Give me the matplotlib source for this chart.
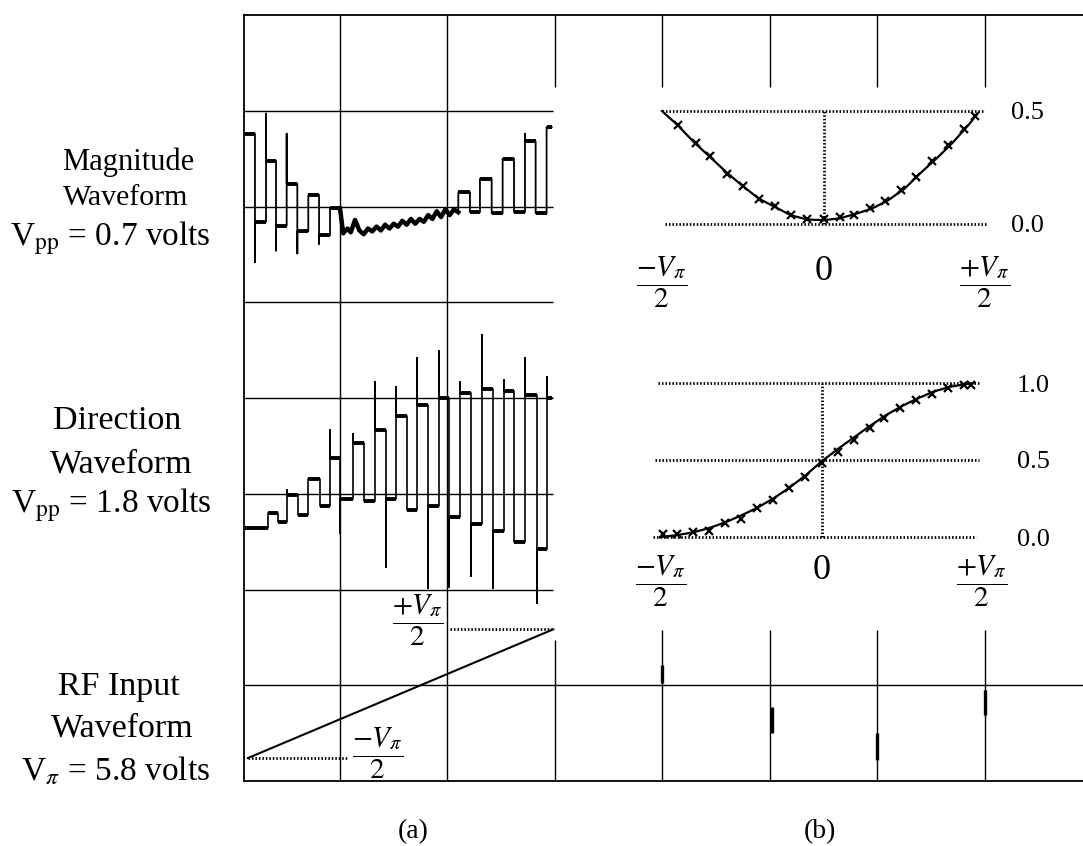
import matplotlib.pyplot as plt

plt.rcParams['font.family'] = ['Liberation Serif', 'DejaVu Serif']
plt.rcParams['mathtext.fontset'] = 'stix'

W, H = 1083, 846

# ---- (a) scope traces, time and level in screen divisions ----
# magnitude channel (centre line at 6 div)
mag_edges = [0.116, 0.209, 0.312, 0.405, 0.504, 0.603, 0.705, 0.805, 0.907, 1.0]
mag_levels = [0.76, -0.16, 0.48, -0.20, 0.24, -0.26, 0.12, -0.30, -0.02]
mag_spikes = [None, -0.58, 0.97, -0.46, 0.76, -0.49, None, -0.39, None]
mag_mid_t = [1.00, 1.03, 1.07, 1.10, 1.14, 1.18, 1.22, 1.26, 1.30, 1.34, 1.38, 1.42,
             1.46, 1.50, 1.54, 1.58, 1.62, 1.66, 1.70, 1.74, 1.78, 1.82, 1.86, 1.90,
             1.94, 1.98, 2.02, 2.06, 2.10]
mag_mid_v = [-0.02, -0.28, -0.23, -0.27, -0.14, -0.25, -0.29, -0.23, -0.26, -0.21, -0.25, -0.19,
             -0.23, -0.18, -0.21, -0.15, -0.19, -0.13, -0.18, -0.13, -0.16, -0.09, -0.13, -0.05,
             -0.11, -0.03, -0.09, -0.03, -0.06]
mag2_edges = [2.101, 2.209, 2.302, 2.411, 2.513, 2.619, 2.721, 2.820, 2.922, 2.969]
mag2_levels = [0.15, -0.06, 0.29, -0.07, 0.50, -0.06, 0.68, -0.07, 0.83]
mag2_spikes = [None, None, None, None, None, None, 0.76, None, None]

# direction channel (centre line at 3 div)
dir_edges = [0.116, 0.333, 0.426, 0.504, 0.612, 0.705, 0.814, 0.907, 1.0, 1.118, 1.223,
             1.326, 1.425, 1.521, 1.620, 1.719, 1.822, 1.921, 2.017, 2.116, 2.216, 2.318,
             2.420, 2.526, 2.622, 2.724, 2.829, 2.929, 2.969]
dir_levels = [-0.36, -0.20, -0.29, -0.01, -0.22, 0.15, -0.13, 0.37, -0.06, 0.53, -0.08,
              0.67, -0.06, 0.81, -0.17, 0.93, -0.13, 1.00, -0.24, 1.05, -0.32, 1.09,
              -0.39, 1.07, -0.50, 1.03, -0.58, 1.00]
dir_spikes = [None, None, None, 0.04, None, None, None, 0.67, -0.41, 0.62, None,
              1.17, -0.76, 1.12, None, 1.42, -0.98, 1.49, -0.97, 1.17, -0.86, 1.66,
              -0.98, 1.19, None, 1.42, -1.14, 1.22]

# RF input ramp (div from bottom)
rf_t = [0.144, 2.984]
rf_v = [0.24, 1.584]

# cursor blips on the lower right graticule
blip_x = [4.0, 5.02, 6.0, 7.0]
blip_lo = [1.02, 0.50, 0.22, 0.69]
blip_hi = [1.21, 0.77, 0.50, 0.95]

# ---- (b) transfer curves, x in units of V_pi/2 ----
mag_fit_x = [-1.0, -0.9, -0.8, -0.7, -0.6, -0.5, -0.4, -0.3, -0.2, -0.1, 0.0,
             0.1, 0.2, 0.3, 0.4, 0.5, 0.6, 0.7, 0.8, 0.9, 0.95]
mag_fit_y = [0.50, 0.435, 0.36, 0.295, 0.228, 0.168, 0.112, 0.075, 0.038, 0.02, 0.017,
             0.025, 0.045, 0.068, 0.105, 0.155, 0.225, 0.29, 0.36, 0.44, 0.485]
mag_meas_x = [-0.90, -0.79, -0.70, -0.60, -0.50, -0.40, -0.30, -0.20, -0.10, 0.0,
              0.10, 0.19, 0.29, 0.38, 0.48, 0.57, 0.67, 0.77, 0.87, 0.94]
mag_meas_y = [0.44, 0.36, 0.30, 0.22, 0.17, 0.11, 0.08, 0.04, 0.02, 0.02,
              0.03, 0.04, 0.07, 0.10, 0.15, 0.21, 0.28, 0.35, 0.42, 0.48]

dir_fit_x = mag_fit_x
dir_fit_y = [0.0, 0.012, 0.03, 0.058, 0.095, 0.14, 0.19, 0.25, 0.32, 0.40, 0.49,
             0.57, 0.645, 0.72, 0.79, 0.85, 0.90, 0.945, 0.975, 0.993, 1.0]
dir_meas_x = [-0.99, -0.90, -0.80, -0.70, -0.60, -0.50, -0.40, -0.30, -0.20, -0.10, 0.0,
              0.10, 0.20, 0.30, 0.39, 0.49, 0.59, 0.69, 0.79, 0.89, 0.93]
dir_meas_y = [0.02, 0.02, 0.03, 0.04, 0.09, 0.12, 0.19, 0.24, 0.32, 0.39, 0.48,
              0.55, 0.63, 0.71, 0.77, 0.84, 0.89, 0.93, 0.97, 0.99, 0.99]

frac_lo = r'$\dfrac{-V_{\pi}}{2}$'
frac_hi = r'$\dfrac{+V_{\pi}}{2}$'


def box(l, r, b, t):
    return [l / W, 1 - b / H, (r - l) / W, (b - t) / H]


def square_path(edges, levels, spikes, centre):
    xs, ys = [], []
    for i, lev in enumerate(levels):
        sp = lev if spikes[i] is None else spikes[i]
        xs += [edges[i], edges[i], edges[i + 1]]
        ys += [centre + sp, centre + lev, centre + lev]
    return xs, ys


def draw_levels(ax, edges, levels, centre):
    for i, lev in enumerate(levels):
        ax.plot([edges[i], edges[i + 1]], [centre + lev, centre + lev],
                color='black', lw=2.8, solid_capstyle='butt')


fig = plt.figure(figsize=(W / 100, H / 100), dpi=100)

# ---------------- scope screen ----------------
sc = fig.add_axes(box(244, 1083, 781, 15))
sc.set_xlim(0.107, 7.912)
sc.set_ylim(0, 8)
sc.set_xticks([])
sc.set_yticks([])
sc.spines['right'].set_visible(False)
for s in ['left', 'top', 'bottom']:
    sc.spines[s].set_linewidth(1.3)

gk = dict(color='black', lw=1.0)
sc.vlines([1, 2], 0, 8, **gk)
sc.vlines([3, 4, 5, 6, 7], 7.25, 8, **gk)
sc.vlines([3], 0, 1.47, **gk)
sc.vlines([4, 5, 6, 7], 0, 1.58, **gk)
sc.hlines([2, 3, 4, 5, 6, 7], 0.107, 2.98, **gk)
sc.hlines([1], 0.107, 7.912, **gk)

# magnitude trace
x1, y1 = square_path(mag_edges, mag_levels, mag_spikes, 6)
x2, y2 = square_path(mag2_edges, mag2_levels, mag2_spikes, 6)
mid_y = [6 + v for v in mag_mid_v]
sc.plot(x1 + mag_mid_t + x2, y1 + mid_y + y2, color='black', lw=1.3)
sc.plot(mag_mid_t, mid_y, color='black', lw=3.2)
draw_levels(sc, mag_edges, mag_levels, 6)
draw_levels(sc, mag2_edges, mag2_levels, 6)

# direction trace
xd, yd = square_path(dir_edges, dir_levels, dir_spikes, 3)
sc.plot(xd, yd, color='black', lw=1.2)
draw_levels(sc, dir_edges, dir_levels, 3)

# RF ramp
sc.plot(rf_t, rf_v, color='black', lw=1.5)
dot = (0, (0.55, 0.7))
sc.plot([rf_t[0], 1.062], [rf_v[0], rf_v[0]], color='black', lw=2.0, linestyle=dot)
sc.plot([2.023, rf_t[1]], [rf_v[1], rf_v[1]], color='black', lw=2.0, linestyle=dot)
sc.text(1.726, 1.68, frac_hi, ha='center', va='center', fontsize=21)
sc.text(1.353, 0.29, frac_lo, ha='center', va='center', fontsize=21)
sc.vlines(blip_x, blip_lo, blip_hi, color='black', lw=2.4)

# ---------------- (b) transfer curves ----------------
axm = fig.add_axes(box(662, 985, 224, 111))
axm.set_xlim(-1, 1)
axm.set_ylim(0, 0.5)
axm.plot(mag_fit_x, mag_fit_y, color='black', lw=1.6, clip_on=False)
axm.plot(mag_meas_x, mag_meas_y, 'x', color='black', ms=6, mew=1.6, clip_on=False)
axm.plot([-1.0, 1.0], [0.5, 0.5], color='black', lw=2.0, linestyle=dot, clip_on=False)
axm.plot([-0.98, 1.02], [0, 0], color='black', lw=2.0, linestyle=dot, clip_on=False)
axm.plot([0, 0], [0, 0.5], color='black', lw=2.0, linestyle=dot, clip_on=False)
axm.yaxis.tick_right()
axm.set_yticks([0, 0.5], ['0.0', '0.5'])
axm.tick_params(axis='y', length=0, pad=19, labelsize=19)
axm.set_xticks([-1, 0, 1], [frac_lo, '0', frac_hi])
axm.tick_params(axis='x', length=0, pad=22, labelsize=21)

axd = fig.add_axes(box(661, 982, 537, 383))
axd.set_xlim(-1, 1)
axd.set_ylim(0, 1)
axd.plot(dir_fit_x, dir_fit_y, color='black', lw=1.6, clip_on=False)
axd.plot(dir_meas_x, dir_meas_y, 'x', color='black', ms=6, mew=1.6, clip_on=False)
axd.plot([-1.02, 0.99], [1, 1], color='black', lw=2.0, linestyle=dot, clip_on=False)
axd.plot([-1.04, 0.98], [0.5, 0.5], color='black', lw=2.0, linestyle=dot, clip_on=False)
axd.plot([-1.05, 0.96], [0, 0], color='black', lw=2.0, linestyle=dot, clip_on=False)
axd.plot([0, 0], [0, 1], color='black', lw=2.0, linestyle=dot, clip_on=False)
axd.yaxis.tick_right()
axd.set_yticks([0, 0.5, 1], ['0.0', '0.5', '1.0'])
axd.tick_params(axis='y', length=0, pad=25, labelsize=19)
axd.set_xticks([-1, 0, 1], [frac_lo, '0', frac_hi])
axd.tick_params(axis='x', length=0, pad=12, labelsize=21)

for a in (axm, axd):
    for s in a.spines.values():
        s.set_visible(False)
    a.patch.set_alpha(0)
    a.get_xticklabels()[1].set_fontsize(26)

# ---------------- left labels ----------------
labels = [
    ('Magnitude', 128, 170, 22), ('Waveform', 126, 205, 21.5),
    ('V$_{\\rm pp}$ = 0.7 volts', 110, 245, 24),
    ('Direction', 117, 429, 24.5), ('Waveform', 121, 472, 24.5),
    ('V$_{\\rm pp}$ = 1.8 volts', 111, 512, 24),
    ('RF Input', 119, 695, 24.5), ('Waveform', 122, 736, 24.5),
    ('V$_{\\pi}$ = 5.8 volts', 116, 779, 24),
]
for txt, x, y, fs in labels:
    fig.text(x / W, 1 - y / H, txt, ha='center', va='baseline', fontsize=fs)

fig.text(413 / W, 1 - 832 / H, '(a)', ha='center', va='center', fontsize=20)
fig.text(820 / W, 1 - 832 / H, '(b)', ha='center', va='center', fontsize=20)

fig.savefig('out.png', dpi=100)
